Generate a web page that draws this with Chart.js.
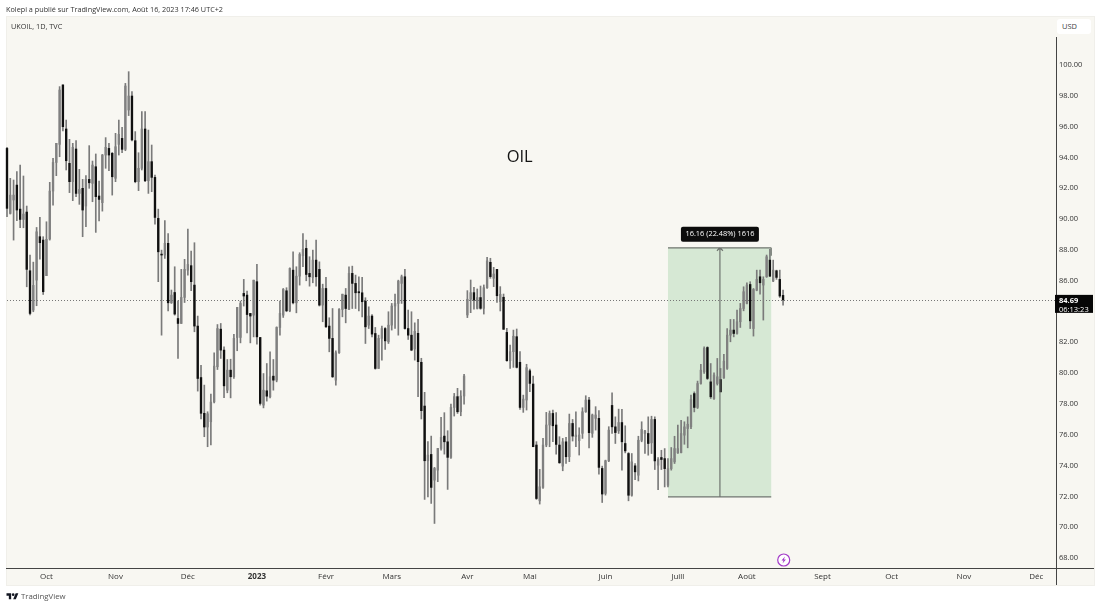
<!DOCTYPE html>
<html lang="fr"><head><meta charset="utf-8">
<script src="https://cdn.jsdelivr.net/npm/chart.js@4"></script>
<style>
html,body{margin:0;padding:0;background:#fff;width:1100px;height:607px;overflow:hidden}
body{position:relative;font-family:"Open Sans",sans-serif}
#panel{position:absolute;left:6px;top:16px;width:1087px;height:568px;background:#f8f7f2;border:1px solid #f0efea;box-sizing:content-box}
canvas{position:absolute;left:0;top:0}
.t{position:absolute;white-space:nowrap;line-height:1}
#usd{position:absolute;left:1057px;top:19px;width:34px;height:15px;background:#fff;border-radius:3px;color:#444;font-size:7.5px;line-height:15px;text-indent:5px}
</style></head><body>
<div id="panel"></div>
<canvas id="c" width="1100" height="607"></canvas>
<div class="t" style="left:6px;top:5.5px;font-size:7.25px;color:#333">Kolepi a publié sur TradingView.com, Août 16, 2023 17:46 UTC+2</div>
<div class="t" style="left:11px;top:22.5px;font-size:7.3px;color:#333">UKOIL, 1D, TVC</div>
<div id="usd">USD</div>
<svg style="position:absolute;left:6px;top:592px" width="13" height="8" viewBox="0 0 36 24"><path fill="#131722" d="M14 22H7V11H0V4h14v18zM28 22h-8l7.5-18h8L28 22z"/><circle fill="#131722" cx="20" cy="8" r="4"/></svg>
<div class="t" style="left:21px;top:592.5px;font-size:7.8px;color:#555">TradingView</div>
<script>
const opens=[94.52,90.30,91.17,92.14,90.58,89.91,90.39,86.58,84.03,85.97,
88.79,88.57,86.26,88.64,91.75,93.61,94.78,98.64,95.78,93.55,
92.36,94.48,91.60,91.93,90.78,92.51,92.25,93.33,91.43,91.00,
94.09,94.52,94.20,92.58,94.78,95.17,94.46,97.01,97.92,95.02,
92.36,93.23,95.78,92.42,93.66,92.64,89.98,87.66,87.60,88.36,
84.50,85.17,83.48,83.16,84.85,86.62,86.91,85.65,82.99,79.65,
77.33,76.44,76.78,78.07,80.35,82.79,81.43,78.83,80.13,79.70,
82.25,82.25,85.11,85.00,83.81,83.70,85.87,82.25,77.86,78.79,
78.40,79.74,79.48,82.90,83.70,85.28,83.98,86.62,84.50,86.23,
87.55,88.03,86.41,86.15,87.27,86.67,84.35,85.43,82.99,82.19,
79.48,81.26,84.07,85.00,84.07,86.41,85.76,85.22,85.15,84.61,
83.05,83.64,82.51,80.24,82.19,82.83,81.97,83.05,84.29,84.46,
85.76,86.19,82.83,82.40,81.50,82.52,80.64,77.80,74.25,74.66,
72.99,73.64,75.05,75.85,75.48,74.47,77.71,78.41,77.43,78.45,
83.71,84.73,85.16,84.14,84.84,84.14,85.48,87.13,86.09,86.67,
84.57,84.86,82.58,80.74,81.33,82.30,80.64,77.71,78.19,80.09,
79.23,75.27,71.65,72.52,75.27,76.57,77.32,76.57,75.27,73.90,
75.48,74.51,76.67,75.81,75.55,76.03,77.43,78.19,76.03,77.00,
77.00,73.75,72.13,74.25,77.84,76.45,76.19,76.73,75.37,74.72,
72.01,73.92,73.31,75.58,76.02,76.02,75.41,76.93,73.96,74.46,
74.39,72.66,73.74,74.18,74.76,74.78,75.91,76.34,76.45,78.61,
77.71,79.26,80.02,81.60,79.37,78.29,79.26,79.52,79.63,80.24,
82.40,82.73,82.51,83.27,84.13,84.46,85.69,82.83,85.32,86.19,
85.65,86.19,87.27,85.91,86.58,86.02,84.98];
const highs=[94.59,92.58,92.47,93.01,93.44,92.73,90.78,87.60,87.14,89.39,
90.04,88.79,89.76,92.32,93.87,94.85,98.53,98.64,96.36,95.11,
94.85,95.02,93.16,92.51,92.75,94.70,93.70,94.16,92.40,94.13,
95.22,94.85,94.26,95.50,96.36,95.89,98.74,99.50,98.20,95.61,
94.24,96.91,96.91,95.71,94.74,92.79,90.58,87.92,89.83,89.00,
85.33,86.84,84.63,86.67,87.32,89.29,87.86,88.40,83.64,80.45,
79.16,77.43,78.58,81.26,83.09,83.16,81.65,80.82,80.84,82.45,
84.20,84.61,86.02,85.26,83.81,85.97,86.99,82.25,79.91,80.56,
81.32,80.82,82.94,84.61,85.43,85.48,86.77,87.81,86.84,87.75,
89.00,88.57,87.49,87.92,88.57,87.16,85.71,86.15,83.53,84.13,
81.39,84.13,85.06,85.43,86.84,86.88,86.30,86.19,86.15,84.83,
84.24,83.74,82.90,82.40,82.99,82.90,83.92,84.46,85.06,85.97,
86.30,86.67,84.03,83.92,83.20,83.43,80.90,78.69,75.49,75.85,
73.82,75.05,77.06,77.37,76.20,77.93,78.62,78.95,78.80,79.86,
85.29,85.98,85.51,85.40,85.59,85.66,87.45,87.39,86.80,86.67,
85.55,85.07,82.84,81.76,82.73,82.80,81.33,78.51,80.51,80.20,
79.75,75.49,73.69,75.70,77.39,77.48,77.54,77.37,75.81,75.70,
75.77,77.28,76.93,77.43,76.39,77.69,78.47,78.36,77.28,77.76,
77.50,73.90,74.29,76.46,78.66,77.10,77.60,77.58,76.52,74.78,
74.72,74.07,75.84,76.78,76.23,77.10,77.14,77.10,74.46,74.93,
75.04,74.39,75.11,75.84,76.56,76.88,76.78,77.10,78.51,78.72,
79.42,80.50,81.65,81.65,80.56,79.96,80.89,80.24,81.15,82.83,
83.42,83.42,84.03,84.46,85.54,85.80,85.87,85.43,86.62,86.62,
86.19,87.60,87.97,87.27,86.62,86.62,85.32];
const lows=[90.09,90.26,88.57,89.83,89.37,89.37,85.54,83.72,83.92,84.31,
87.34,85.04,86.26,88.57,90.84,92.75,93.98,95.65,93.12,91.65,
91.13,91.39,90.89,88.79,89.44,91.93,91.06,89.07,89.81,90.45,
93.23,93.07,91.49,92.36,94.09,94.24,94.37,96.65,95.00,92.29,
91.78,93.12,92.36,91.60,91.71,89.61,85.87,82.40,87.38,83.98,
84.46,83.70,80.89,83.16,84.52,86.30,85.28,82.62,78.77,76.96,
75.81,75.16,75.27,78.01,80.17,80.89,78.35,78.66,78.33,79.59,
81.39,81.90,84.29,82.55,81.90,82.29,81.82,77.86,77.68,78.12,
78.33,78.83,79.37,82.40,83.55,83.92,83.92,84.42,83.85,85.65,
86.84,85.93,85.58,85.80,85.58,84.29,83.27,82.90,81.32,79.65,
79.16,81.21,83.59,83.20,84.07,84.13,84.13,83.98,83.59,81.86,
82.83,82.29,80.19,80.24,80.78,81.47,81.86,82.73,82.83,82.40,
84.46,82.79,82.12,81.39,80.78,78.41,76.96,71.74,71.91,71.48,
70.18,72.89,74.94,74.68,72.39,74.40,77.15,77.32,77.17,77.93,
83.54,83.86,84.08,84.10,84.08,83.77,85.44,86.09,85.55,84.53,
83.97,82.78,80.72,80.25,80.31,80.27,77.58,77.39,77.54,78.73,
75.16,71.74,71.44,72.45,75.16,75.16,75.49,74.68,74.08,73.60,
74.08,74.19,75.53,75.16,74.62,75.70,77.39,75.09,75.77,76.24,
73.38,71.54,72.02,74.19,76.02,75.37,76.02,73.64,74.76,71.65,
71.95,73.03,72.94,75.48,74.72,74.61,74.72,73.68,72.38,73.68,
72.55,72.55,73.64,74.07,74.72,74.76,75.32,75.09,76.34,77.42,
77.64,79.22,79.91,79.52,78.29,78.23,79.16,78.72,79.59,80.17,
81.97,82.29,82.47,82.90,83.98,84.42,82.83,82.34,85.28,85.06,
83.38,86.15,86.19,85.87,86.02,84.85,84.35];
const closes=[90.63,91.49,91.49,90.52,89.91,90.26,86.67,83.81,85.63,89.11,
88.40,85.22,88.62,91.75,93.61,94.85,98.31,95.93,93.72,92.36,
94.59,91.60,91.86,90.52,92.51,92.29,93.44,91.39,91.21,94.09,
94.59,94.09,92.68,94.63,95.43,94.46,98.57,97.92,95.07,92.36,
93.23,95.78,92.42,93.66,92.64,90.04,87.81,87.60,88.36,84.50,
85.00,83.77,83.16,84.85,86.67,86.99,85.87,82.99,79.59,77.33,
76.44,77.30,78.06,80.39,82.83,81.43,79.11,80.13,79.70,82.19,
84.20,84.46,84.94,83.74,83.64,85.97,82.29,77.97,78.83,78.44,
79.70,79.48,82.90,83.81,85.37,83.98,86.73,84.50,86.23,87.64,
87.97,86.34,86.19,87.27,86.19,84.35,85.43,82.94,82.19,79.70,
81.26,84.07,85.06,84.13,86.41,85.76,85.15,85.15,84.57,82.94,
83.64,82.47,80.24,82.19,82.83,82.03,83.05,84.29,84.46,85.91,
86.19,82.83,82.40,81.43,82.65,80.68,77.50,74.25,74.62,72.52,
73.75,75.05,75.77,75.48,74.47,77.71,78.41,77.43,78.45,79.75,
84.73,85.16,84.68,84.84,84.14,85.48,87.22,86.20,86.37,84.96,
85.05,82.78,80.74,81.33,82.33,80.31,77.71,78.25,80.29,79.27,
75.16,71.80,72.56,75.27,76.57,77.32,76.52,75.31,74.12,75.48,
74.51,76.67,75.85,75.92,75.92,77.43,78.19,76.07,77.22,77.22,
73.82,72.09,74.25,76.24,76.45,76.08,76.73,75.48,74.89,72.01,
74.18,73.53,75.58,76.28,76.19,75.37,76.93,74.24,74.33,74.33,
73.74,73.74,74.39,75.04,75.04,76.02,76.45,76.62,78.22,77.71,
79.26,80.13,81.54,79.59,78.40,79.81,79.70,78.72,80.71,82.40,
82.73,82.51,83.27,84.13,85.22,85.65,83.33,85.37,86.02,85.80,
86.02,87.49,86.23,86.62,86.15,84.94,84.69];

const monthLabels=["Oct","Nov","Déc","2023","Févr","Mars","Avr","Mai","Juin","Juill","Août","Sept","Oct","Nov","Déc"];
const monthBars=[12,33,55,76,97,117,140,159,182,204,225,248,269,291,313];
const totalBars=320;
const priceTicks=[68,70,72,74,76,78,80,82,86,88,90,92,94,96,98,100];
const lastPrice=84.69;
const measureLow=71.91, measureHigh=88.07;
const measureFrom=201, measureTo=232.4, measureMid=216.8;
const measureText="16.16 (22.48%) 1616";
const chartNote="OIL";

const categories=new Array(totalBars).fill("");
monthBars.forEach((b,i)=>{categories[b]=monthLabels[i];});
const UP="#808080",DOWN="#101010",WICK="#7a7a7a";

const overlay={id:"overlay",
 beforeDatasetsDraw(ch){
  const {ctx,chartArea:a,scales:{x,y}}=ch;
  ctx.save();
  const x0=x.getPixelForValue(measureFrom),x1=x.getPixelForValue(measureTo);
  const yT=y.getPixelForValue(measureHigh),yB=y.getPixelForValue(measureLow);
  ctx.fillStyle="#d6e8d4";ctx.fillRect(x0,yT,x1-x0,yB-yT);
  const yP=Math.round(y.getPixelForValue(lastPrice))+.5;
  ctx.strokeStyle="#777";ctx.lineWidth=1;ctx.setLineDash([1,2]);
  ctx.beginPath();ctx.moveTo(a.left,yP);ctx.lineTo(a.right,yP);ctx.stroke();
  ctx.restore();
 },
 afterDraw(ch){
  const {ctx,chartArea:a,scales:{x,y}}=ch;
  ctx.save();
  // axis frame: the separators run out to the panel edges
  ctx.strokeStyle="#444";ctx.lineWidth=1;ctx.beginPath();
  ctx.moveTo(6,a.bottom+.5);ctx.lineTo(1094,a.bottom+.5);
  ctx.moveTo(a.right+.5,a.top);ctx.lineTo(a.right+.5,585);ctx.stroke();
  const x0=x.getPixelForValue(measureFrom),x1=x.getPixelForValue(measureTo),xm=x.getPixelForValue(measureMid);
  const yT=y.getPixelForValue(measureHigh),yB=y.getPixelForValue(measureLow);
  ctx.strokeStyle="#6f746f";ctx.lineWidth=1.2;
  ctx.beginPath();ctx.moveTo(x0,yT);ctx.lineTo(x1,yT);ctx.moveTo(x0,yB);ctx.lineTo(x1,yB);
  ctx.moveTo(xm,yB);ctx.lineTo(xm,yT);ctx.moveTo(xm-3,yT+3);ctx.lineTo(xm,yT);ctx.lineTo(xm+3,yT+3);
  ctx.moveTo(x1,yT);ctx.lineTo(x1,yT+8);ctx.stroke();
  // measure label
  ctx.font='7.4px "Open Sans"';ctx.textAlign="center";ctx.textBaseline="middle";
  ctx.fillStyle="#0c0c0c";ctx.beginPath();ctx.roundRect(xm-39,yT-21,78,15,2);ctx.fill();
  ctx.fillStyle="#fff";ctx.fillText(measureText,xm,yT-13.5);
  // note
  ctx.fillStyle="#131313";ctx.font='16.5px "Open Sans"';
  ctx.fillText(chartNote,x.getPixelForValue(155.9),y.getPixelForValue(93.93));
  // last price tag
  const yP=y.getPixelForValue(lastPrice);
  ctx.fillStyle="#060606";ctx.fillRect(a.right-1,yP-5,38,18);
  ctx.fillStyle="#fff";ctx.textAlign="left";ctx.font='bold 7.5px "Open Sans"';
  ctx.fillText(lastPrice.toFixed(2),a.right+3,yP+.5);
  ctx.font='7.5px "Open Sans"';ctx.fillText("06:13:23",a.right+3,yP+9.5);
  // alert icon
  const bx=x.getPixelForValue(236.2),by=560;
  ctx.fillStyle="#fff";ctx.strokeStyle="#a33ac8";ctx.lineWidth=1.2;
  ctx.beginPath();ctx.arc(bx,by,6,0,Math.PI*2);ctx.fill();ctx.stroke();
  ctx.fillStyle="#a33ac8";ctx.beginPath();
  ctx.moveTo(bx+1.2,by-3.5);ctx.lineTo(bx-2.2,by+.6);ctx.lineTo(bx-.2,by+.6);ctx.lineTo(bx-1.2,by+3.5);ctx.lineTo(bx+2.2,by-.6);ctx.lineTo(bx+.2,by-.6);ctx.closePath();ctx.fill();
  ctx.restore();
 }
};

new Chart(document.getElementById("c"),{
 type:"bar",
 data:{labels:categories,datasets:[
  {label:"Mèches",data:lows.map((l,i)=>[l,highs[i]]),backgroundColor:WICK,barThickness:1,grouped:false,order:2,clip:false},
  {label:"UKOIL",data:opens.map((o,i)=>[o,closes[i]]),
   backgroundColor:opens.map((o,i)=>closes[i]>=o?UP:DOWN),barThickness:1.7,grouped:false,order:1,clip:false}
 ]},
 options:{
  responsive:false,animation:false,devicePixelRatio:1,
  layout:{padding:{left:7,top:37,right:6,bottom:22}},
  plugins:{legend:{display:false},tooltip:{enabled:false},title:{display:false}},
  scales:{
   x:{type:"category",offset:false,grid:{display:false,drawTicks:false},
      border:{display:true,color:"#444",width:1},
      afterFit(s){s.height=17;},
      ticks:{autoSkip:false,maxRotation:0,minRotation:0,padding:4,color:"#333",
       font:c=>({family:'"Open Sans"',size:8,weight:categories[c.index]==="2023"?"bold":"normal"}),
       callback(v,i){return categories[i]||"";}}},
   y:{position:"right",min:67.29,max:101.75,grid:{display:false,drawTicks:false},
      border:{display:true,color:"#444",width:1},
      afterFit(s){s.width=38;},
      afterBuildTicks(s){s.ticks=priceTicks.map(v=>({value:v}));},
      ticks:{padding:3,labelOffset:1,color:"#333",font:{family:'"Open Sans"',size:7.5},
       callback:v=>v.toFixed(2)}}
  }
 },
 plugins:[overlay]
});
</script>
</body></html>
